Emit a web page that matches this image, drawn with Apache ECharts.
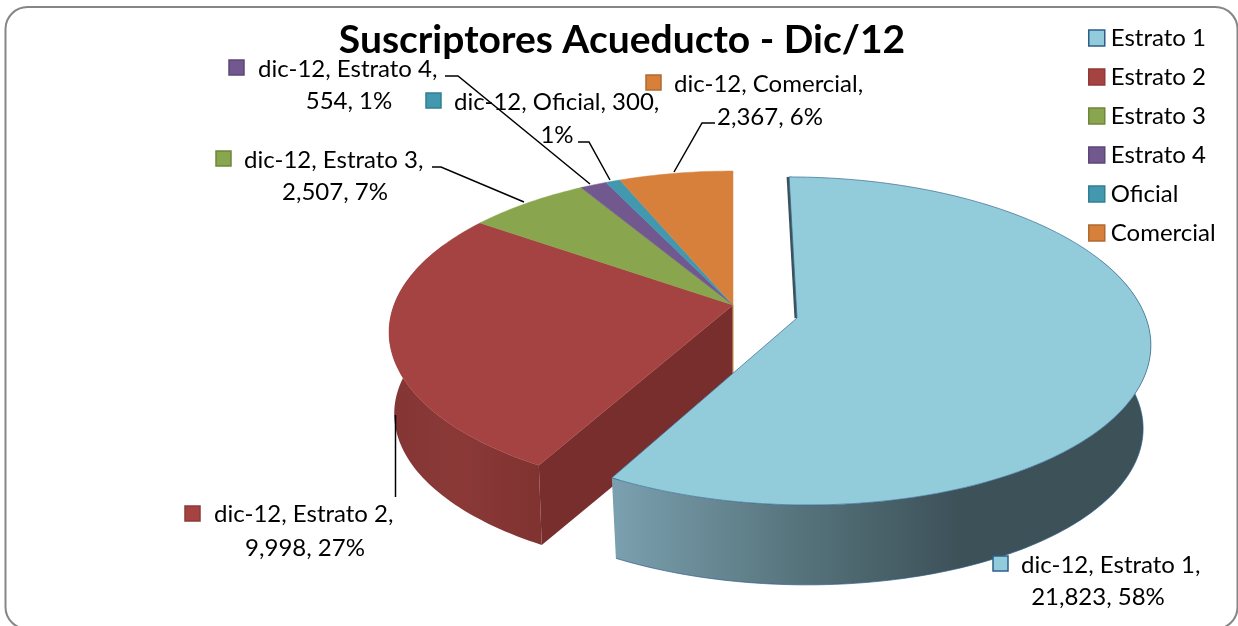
<!DOCTYPE html>
<html>
<head>
<meta charset="utf-8">
<style>
  html, body { margin: 0; padding: 0; background: #fff; }
  #main { width: 1238px; height: 626px; }
</style>
<script src="https://cdn.jsdelivr.net/npm/echarts@6/dist/echarts.min.js"></script>
</head>
<body>
<div id="main"></div>
<script>
// datos
const chartTitle = "Suscriptores Acueducto - Dic/12";
const period = "dic-12";
const categories = ["Estrato 1", "Estrato 2", "Estrato 3", "Estrato 4", "Oficial", "Comercial"];
const subscribers = [21823, 9998, 2507, 554, 300, 2367];

// colores
const topColors = ["#92cbda", "#a54342", "#89a54e", "#71588f", "#4198af", "#d7803c"];
const keyBorders = ["#2f5d8a", "#8f3a38", "#6d873c", "#5c4776", "#357d92", "#ae6a31"];
const fontName = "Lato, 'Open Sans', sans-serif";

// cuantas partes del texto van en la primera linea de cada etiqueta
const firstLineParts = [2, 2, 2, 2, 3, 2];

// layout de etiquetas: [keyX, keyY, line1X, line1Y, line2CenterX, line2Y]
const labelBoxes = [
  [993, 556, 1021, 565, 1098, 597],
  [185, 506, 214, 514, 305, 548],
  [216, 151, 244, 160, 335, 192],
  [229, 60, 258, 69, 349, 101],
  [426, 93, 454, 102, 557, 135],
  [646, 75, 674, 84, 770, 117]
];
const leaderLines = [
  null,
  [[395.5, 415], [395.5, 497]],
  [[432, 167], [441, 167], [524, 202]],
  [[445, 76], [458, 76], [590, 184]],
  [[578, 142], [589, 142], [610, 180]],
  [[715, 123], [702, 123], [674, 172]]
];

// geometria de la torta en perspectiva
const pieMain = { cx: 733, cy: 305, R: 339, Ry: 156.6, k: 0.169, sh: 0, depth: 82, bs: 0.985 };
const pieExploded = { cx: 797, cy: 318, R: 349, Ry: 160.8, k: 0.14, sh: 9, depth: 84, bs: 0.978 };

const total = subscribers.reduce((a, b) => a + b, 0);

function rimPoint(g, ang) {
  const X = Math.sin(ang);
  const Y = -Math.cos(ang);
  const w = 1 - g.k * Y;
  return [g.cx + (g.R * X + g.sh * Y) / w, g.cy + (g.Ry * Y) / w];
}
function lower(g, p) {
  return [
    g.cx + (p[0] - g.cx) * g.bs,
    g.cy + g.depth + (p[1] - g.cy) * g.bs
  ];
}

function wallFill(i) {
  if (i === 0) {
    return new echarts.graphic.LinearGradient(616, 0, 960, 0, [
      { offset: 0, color: "#7a9fae" },
      { offset: 0.55, color: "#55727a" },
      { offset: 1, color: "#3d5159" }
    ], true);
  }
  return new echarts.graphic.LinearGradient(390, 0, 545, 0, [
    { offset: 0, color: "#843634" },
    { offset: 0.45, color: "#8a3937" },
    { offset: 1, color: "#7f3230" }
  ], true);
}

function renderSlice(i, api) {
  const g = i === 0 ? pieExploded : pieMain;
  const before = subscribers.slice(0, i).reduce((a, b) => a + b, 0);
  const start = (before / total) * Math.PI * 2;
  const end = ((before + api.value(0)) / total) * Math.PI * 2;

  const rim = [];
  const steps = Math.max(2, Math.ceil((end - start) / 0.02));
  for (let s = 0; s <= steps; s++) {
    rim.push(rimPoint(g, start + ((end - start) * s) / steps));
  }
  const apex = [g.cx, g.cy];
  // un poco mas atras del centro, asi la silueta de la pared sale de debajo de la tapa
  const front = rim.filter((p) => p[1] > g.cy - 60);
  const children = [];

  // pared exterior, solo la parte de adelante
  if (front.length > 1 && i < 2) {
    const wall = front.concat(front.map((p) => lower(g, p)).reverse());
    children.push({
      type: "polygon",
      shape: { points: wall },
      style: { fill: wallFill(i) }
    });
  }

  // cara de corte visible
  if (-Math.cos(start) > 0) {
    children.push({
      type: "polygon",
      shape: { points: [apex, rim[0], lower(g, rim[0]), lower(g, apex)] },
      style: { fill: "#772e2c" }
    });
  }
  // ultimo sector: borde vertical detras
  if (i === subscribers.length - 1) {
    children.push({
      type: "line",
      shape: { x1: apex[0], y1: apex[1], x2: apex[0], y2: apex[1] + g.depth },
      style: { stroke: "#c9965f", lineWidth: 1.2 }
    });
  }
  // sombra fina del sector separado
  if (i === 0) {
    children.push({
      type: "line",
      shape: { x1: rim[0][0], y1: rim[0][1], x2: apex[0], y2: apex[1] },
      style: { stroke: "#3d5159", lineWidth: 5 }
    });
    children.push({
      type: "polyline",
      shape: { points: front.map((p) => lower(g, p)) },
      style: { stroke: "#2f5d8a", lineWidth: 0.7, fill: null }
    });
  }

  children.push({
    type: "polygon",
    shape: { points: [apex].concat(rim) },
    style: {
      fill: topColors[i],
      stroke: i === 0 ? "#3a6a94" : topColors[i],
      lineWidth: i === 0 ? 0.7 : 0.5
    }
  });
  return { type: "group", children: children };
}

function labelLines(i) {
  const parts = [
    period,
    categories[i],
    subscribers[i].toLocaleString("en-US"),
    Math.round((subscribers[i] / total) * 100) + "%"
  ];
  const n = firstLineParts[i];
  return [
    parts.slice(0, n).join(", ") + (n < parts.length ? "," : ""),
    parts.slice(n).join(", ")
  ];
}

function renderLabel(params) {
  const i = params.dataIndex;
  const box = labelBoxes[i];
  const lines = labelLines(i);
  const font = "24px " + fontName;
  const children = [];
  if (leaderLines[i]) {
    children.push({
      type: "polyline",
      shape: { points: leaderLines[i] },
      style: { stroke: "#000", lineWidth: 1.5, fill: null }
    });
  }
  children.push({
    type: "rect",
    shape: { x: box[0], y: box[1], width: 15, height: 15 },
    style: { fill: topColors[i], stroke: keyBorders[i], lineWidth: 1.5 }
  });
  children.push({
    type: "text",
    style: { text: lines[0], x: box[2], y: box[3], fill: "#000", font: font, textAlign: "left", textVerticalAlign: "middle" }
  });
  children.push({
    type: "text",
    style: { text: lines[1], x: box[4], y: box[5], fill: "#000", font: font, textAlign: "center", textVerticalAlign: "middle" }
  });
  return { type: "group", children: children };
}

const chart = echarts.init(document.getElementById("main"), null, { renderer: "canvas" });

const sliceSeries = categories.map((name, i) => ({
  type: "custom",
  name: name,
  coordinateSystem: "none",
  z: i === 0 ? 4 : 3,
  silent: true,
  animation: false,
  itemStyle: { color: topColors[i] },
  data: [subscribers[i]],
  renderItem: (params, api) => renderSlice(i, api)
}));

chart.setOption({
  animation: false,
  backgroundColor: "#fff",
  title: {
    text: chartTitle,
    left: 617,
    top: 16,
    textAlign: "center",
    textStyle: { fontFamily: fontName, fontWeight: "bold", fontSize: 39, color: "#000" }
  },
  legend: {
    orient: "vertical",
    left: 1088,
    top: 26,
    padding: 0,
    itemWidth: 16,
    itemHeight: 16,
    itemGap: 15,
    selectedMode: false,
    icon: "rect",
    textStyle: { fontFamily: fontName, fontSize: 24, color: "#000", padding: [0, 0, 0, 1] },
    data: categories.map((name, i) => ({
      name: name,
      itemStyle: { color: topColors[i], borderColor: keyBorders[i], borderWidth: 1.5 }
    }))
  },
  graphic: [
    {
      type: "rect",
      z: 0,
      silent: true,
      shape: { x: 5.5, y: 7, width: 1232, height: 622, r: 22 },
      style: { fill: "#fff", stroke: "#868686", lineWidth: 2 }
    }
  ],
  series: sliceSeries.concat([
    {
      type: "custom",
      name: "etiquetas",
      coordinateSystem: "none",
      z: 6,
      silent: true,
      animation: false,
      data: subscribers,
      renderItem: renderLabel
    }
  ])
});
</script>
</body>
</html>
